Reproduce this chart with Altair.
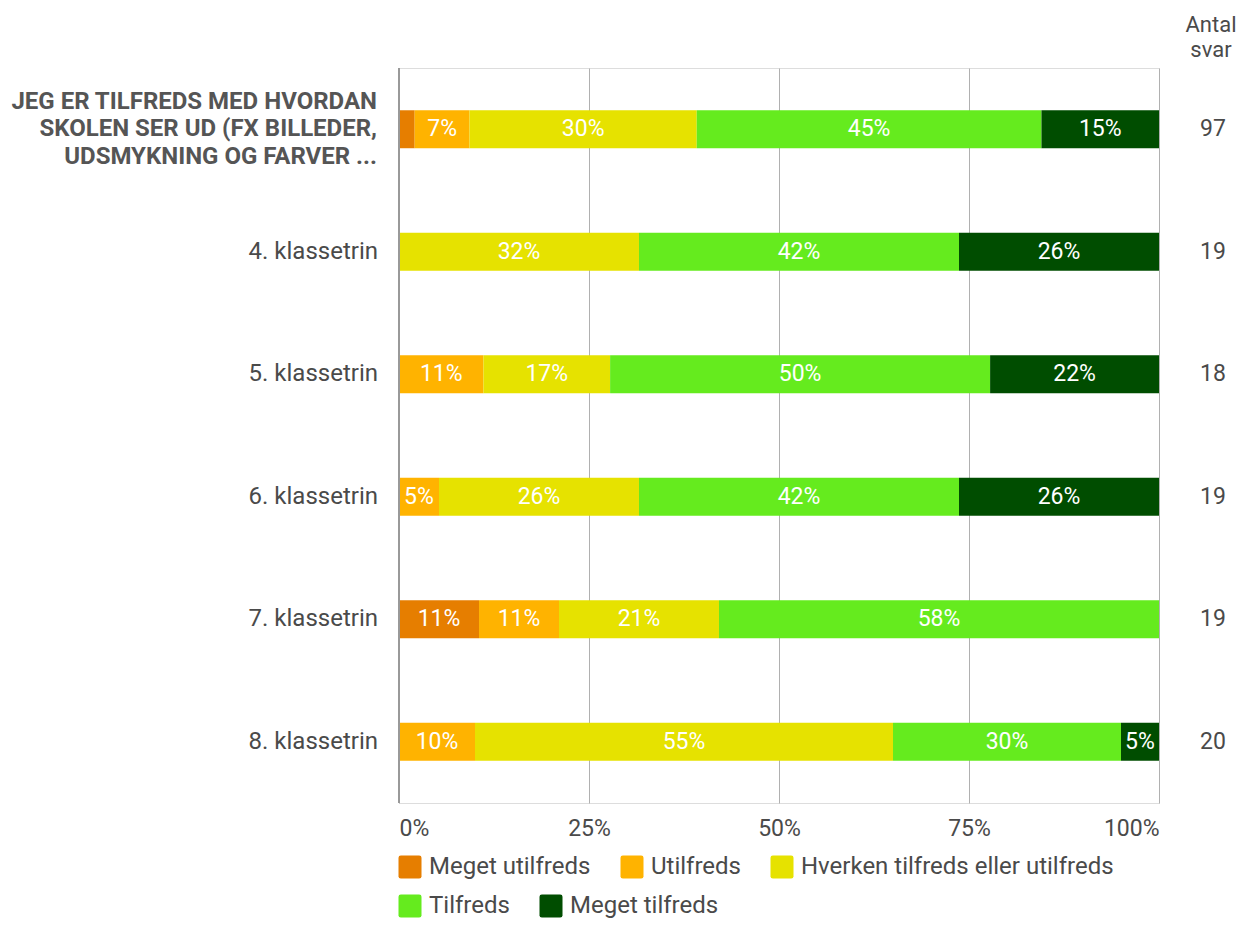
import altair as alt
import pandas as pd

groups = [
    "JEG ER TILFREDS MED HVORDAN\nSKOLEN SER UD (FX BILLEDER,\nUDSMYKNING OG FARVER ...",
    "4. klassetrin",
    "5. klassetrin",
    "6. klassetrin",
    "7. klassetrin",
    "8. klassetrin",
]
categories = [
    "Meget utilfreds",
    "Utilfreds",
    "Hverken tilfreds eller utilfreds",
    "Tilfreds",
    "Meget tilfreds",
]
meget_utilfreds = [2, 0, 0, 0, 2, 0]
utilfreds = [7, 0, 2, 1, 2, 2]
hverken = [29, 6, 3, 5, 4, 11]
tilfreds = [44, 8, 9, 8, 11, 6]
meget_tilfreds = [15, 5, 4, 5, 0, 1]
series = [meget_utilfreds, utilfreds, hverken, tilfreds, meget_tilfreds]
colors = ["#E67E00", "#FFB300", "#E6E200", "#65EB1E", "#004D00"]
x_ticks = [0, 0.25, 0.5, 0.75, 1]

rows = []
for i, g in enumerate(groups):
    for j, (c, vals) in enumerate(zip(categories, series)):
        rows.append({"group": g, "category": c, "order": j, "count": vals[i]})
df = pd.DataFrame(rows)
totals = pd.DataFrame({
    "group": groups,
    "total": [sum(s[i] for s in series) for i in range(len(groups))],
    "bold": [i == 0 for i in range(len(groups))],
})

FONT = "Roboto"
TXT = "#4a4a4a"

yscale = alt.Scale(domain=groups, paddingInner=0.69, paddingOuter=0.345)
y_enc = alt.Y("group:N", sort=groups, scale=yscale, axis=None)

base = (
    alt.Chart(df)
    .transform_filter("datum.count > 0")
    .transform_joinaggregate(total="sum(count)", groupby=["group"])
    .transform_calculate(pct="datum.count / datum.total")
    .transform_stack(stack="pct", groupby=["group"], sort=[alt.SortField("order")], as_=["x0", "x1"])
    .transform_calculate(mid="(datum.x0 + datum.x1) / 2", label="round(datum.pct * 100) + '%'")
)

symbol_path = "M-0.8,-1H0.8Q1,-1 1,-0.8V0.8Q1,1 0.8,1H-0.8Q-1,1 -1,0.8V-0.8Q-1,-1 -0.8,-1Z"

legend_common = dict(
    orient="none", direction="horizontal", title=None, symbolType=symbol_path,
    symbolSize=529, symbolStrokeWidth=0, symbolOpacity=1, labelFontSize=24,
    labelColor=TXT, labelFont=FONT, columnPadding=29, labelOffset=7, labelLimit=600,
)

x_enc = alt.X(
    "x0:Q",
    scale=alt.Scale(domain=[0, 1], nice=False),
    axis=alt.Axis(
        values=x_ticks, format="%", grid=True, gridColor="#b0b0b0", gridWidth=1,
        domain=False, ticks=False, labelFontSize=23, labelColor=TXT, labelFont=FONT,
        labelPadding=14, labelFlush=True, title=None,
    ),
)

bars_a = base.transform_filter("datum.order < 3").mark_bar().encode(
    x=x_enc,
    x2="x1:Q",
    y=y_enc,
    color=alt.Color(
        "category:N",
        scale=alt.Scale(domain=categories[:3], range=colors[:3]),
        legend=alt.Legend(legendX=-1, legendY=787, **legend_common),
    ),
)

bars_b = base.transform_filter("datum.order >= 3").mark_bar().encode(
    x=x_enc,
    x2="x1:Q",
    y=y_enc,
    fill=alt.Fill(
        "category:N",
        scale=alt.Scale(domain=categories[3:], range=colors[3:]),
        legend=alt.Legend(legendX=-1, legendY=826, **legend_common),
    ),
)

bar_labels = base.transform_filter("datum.pct >= 0.04").mark_text(
    color="white", fontSize=23, font=FONT, baseline="middle", align="center"
).encode(x="mid:Q", y=y_enc, text="label:N")

zero_line = alt.Chart(pd.DataFrame({"v": [0]})).mark_rule(color="#999999", strokeWidth=2).encode(x="v:Q")

label_bold = alt.Chart(totals).transform_filter("datum.bold").mark_text(
    align="right", baseline="middle", fontSize=24, font=FONT, fontWeight="bold",
    color="#555555", lineBreak="\n", lineHeight=27.5, dy=-27.5,
).encode(x=alt.value(-22), y=y_enc, text="group:N")

label_norm = alt.Chart(totals).transform_filter("!datum.bold").mark_text(
    align="right", baseline="middle", fontSize=24, font=FONT, color=TXT,
).encode(x=alt.value(-21), y=y_enc, text="group:N")

antal = alt.Chart(totals).mark_text(
    align="center", baseline="middle", fontSize=23, font=FONT, color=TXT,
).encode(x=alt.value(814), y=y_enc, text="total:Q")

header = alt.Chart(pd.DataFrame({"t": ["Antal\nsvar"]})).mark_text(
    align="center", baseline="middle", fontSize=22, font=FONT, color=TXT,
    lineBreak="\n", lineHeight=25,
).encode(x=alt.value(812), y=alt.value(-43), text="t:N")

chart = (
    alt.layer(bars_a, bars_b, zero_line, bar_labels, label_bold, label_norm, antal, header)
    .resolve_scale(color="independent", fill="independent")
    .properties(
        width=760, height=735,
        autosize=alt.AutoSizeParams(type="none"),
        padding={"left": 391, "top": 60, "right": 78, "bottom": 117},
    )
    .configure_view(stroke=None)
    .configure(font=FONT)
)

chart.save("out.html", embed_options={"renderer": "svg", "actions": False})
